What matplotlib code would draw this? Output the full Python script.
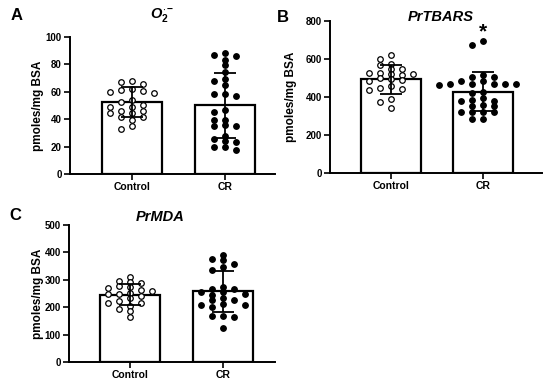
import numpy as np
import matplotlib
matplotlib.use('Agg')
from matplotlib import pyplot as plt

plt.rcParams['font.family'] = ['Liberation Sans', 'DejaVu Sans']
plt.rcParams['font.weight'] = 'bold'
plt.rcParams['mathtext.fontset'] = 'custom'
plt.rcParams['mathtext.rm'] = 'Liberation Sans:bold'
plt.rcParams['mathtext.it'] = 'Liberation Sans:italic:bold'
plt.rcParams['mathtext.bf'] = 'Liberation Sans:bold'

groups = ['Control', 'CR']

# panel A: O2.- (pmoles/mg BSA)
a_control = [67.0, 65.8, 67.7, 61.7, 60.9, 59.7, 60.4, 59.2, 53.6, 52.2, 48.8, 50.2, 48.8,
             45.9, 44.7, 44.7, 45.9, 41.3, 41.3, 39.3, 35.0, 32.5]
a_cr = [86.7, 87.9, 85.9, 83.0, 79.4, 74.5, 67.7, 69.4, 64.8, 58.3, 56.8, 58.0, 46.4, 45.1,
        39.3, 35.0, 35.0, 35.7, 39.3, 27.7, 23.5, 24.0, 25.5, 19.4, 19.9, 17.5]
a_mean = [52.3, 50.1]
a_sd = [11.0, 23.6]

# panel B: PrTBARS
b_control = [623, 602, 571, 567, 546, 546, 518, 523, 514, 528, 528, 493, 497, 489, 483, 458,
             444, 447, 435, 391, 374, 339]
b_cr = [694, 673, 514, 505, 505, 484, 484, 470, 467, 467, 467, 467, 462, 426, 421, 392, 383,
        379, 379, 356, 353, 353, 322, 322, 322, 322, 283, 283]
b_mean = [492, 428]
b_sd = [75, 104]

# panel C: PrMDA
c_control = [311, 293, 297, 270, 287, 272, 276, 263, 252, 250, 260, 241, 250, 232, 223, 217,
             217, 205, 192, 186, 164]
c_cr = [391, 348, 358, 373, 375, 336, 254, 254, 266, 266, 245, 272, 250, 235, 225, 225, 208,
        213, 208, 199, 168, 164, 168, 123]
c_mean = [245, 258]
c_sd = [38, 75]

PX_PER_X = 93.0   # pixels per x data unit
COL_PX = 11.0     # horizontal spacing of dot columns
ROW_PX = 4.7      # dots in one column may come this close vertically


def swarm_offsets(values, px_per_unit):
    # greedy column scatter on a half-column grid (prism style)
    vals = np.asarray(values, dtype=float)
    order = np.argsort(-vals, kind='stable')
    offsets = np.zeros(len(vals))
    placed = []
    slots = sorted(range(-12, 13), key=lambda k: (abs(k), k))
    for i in order:
        y = vals[i] * px_per_unit
        for k in slots:
            x = k * COL_PX / 2
            if all(abs(x - px) >= COL_PX - 0.5 or abs(y - py) >= ROW_PX for px, py in placed):
                placed.append((x, y))
                offsets[i] = x / PX_PER_X
                break
    return offsets


def draw_panel(ax, control, cr, mean, sd, ymax, ystep, px_h, xlim, title, title_xy):
    ax.bar([0, 1], mean, width=0.645, color='white', edgecolor='black', linewidth=1.6, zorder=1)
    px_per_unit = px_h / ymax
    for i, (vals, fc) in enumerate([(control, 'white'), (cr, 'black')]):
        off = swarm_offsets(vals, px_per_unit)
        ax.plot(i + off, vals, 'o', ms=4.0, mfc=fc, mec='black', mew=0.9, zorder=3, clip_on=False)
    ax.errorbar([0, 1], mean, yerr=sd, fmt='none', ecolor='black', elinewidth=1.3,
                capsize=8, capthick=1.3, zorder=4)
    ax.set_ylim(0, ymax)
    ax.set_xlim(*xlim)
    ax.set_yticks(np.arange(0, ymax + 1, ystep))
    ax.set_xticks([0, 1])
    ax.set_xticklabels(groups, fontsize=7.5, fontweight='bold')
    for lab in ax.get_yticklabels():
        lab.set_fontsize(7)
        lab.set_fontweight('bold')
    ax.tick_params(direction='out', length=4, width=1.2, pad=2)
    ax.spines['top'].set_visible(False)
    ax.spines['right'].set_visible(False)
    ax.spines['left'].set_linewidth(1.4)
    ax.spines['bottom'].set_linewidth(1.4)
    ax.set_ylabel('pmoles/mg BSA', fontsize=8.5, fontweight='bold')
    ax.text(title_xy[0], title_xy[1], title, transform=ax.transAxes, ha='center', va='center',
            fontsize=10.5, fontweight='bold', fontstyle='italic')


fig = plt.figure(figsize=(5.5, 3.86), dpi=100)

ax_a = fig.add_axes([70 / 550, 1 - 174 / 386, 205 / 550, 137.3 / 386])
draw_panel(ax_a, a_control, a_cr, a_mean, a_sd, 100, 20, 137.3, (-0.667, 1.538),
           r'$O_2^{\cdot -}$', (0.45, 1.158))
ax_a.yaxis.set_label_coords(-0.127, 0.5)

ax_b = fig.add_axes([330 / 550, 1 - 172.7 / 386, 212 / 550, 151.7 / 386])
draw_panel(ax_b, b_control, b_cr, b_mean, b_sd, 800, 200, 151.7, (-0.663, 1.641),
           'PrTBARS', (0.52, 1.026))
ax_b.yaxis.set_label_coords(-0.156, 0.5)
ax_b.text(1, 742, '*', ha='center', va='center', fontsize=15, fontweight='bold')

ax_c = fig.add_axes([69.3 / 550, 1 - 362 / 386, 206 / 550, 137 / 386])
draw_panel(ax_c, c_control, c_cr, c_mean, c_sd, 500, 100, 137, (-0.655, 1.56),
           'PrMDA', (0.44, 1.06))
ax_c.yaxis.set_label_coords(-0.123, 0.5)

fig.text(17 / 550, 1 - 15 / 386, 'A', fontsize=12, fontweight='bold', ha='center', va='center')
fig.text(283 / 550, 1 - 17 / 386, 'B', fontsize=12, fontweight='bold', ha='center', va='center')
fig.text(15 / 550, 1 - 215 / 386, 'C', fontsize=12, fontweight='bold', ha='center', va='center')

plt.savefig('out.png', dpi=100)
